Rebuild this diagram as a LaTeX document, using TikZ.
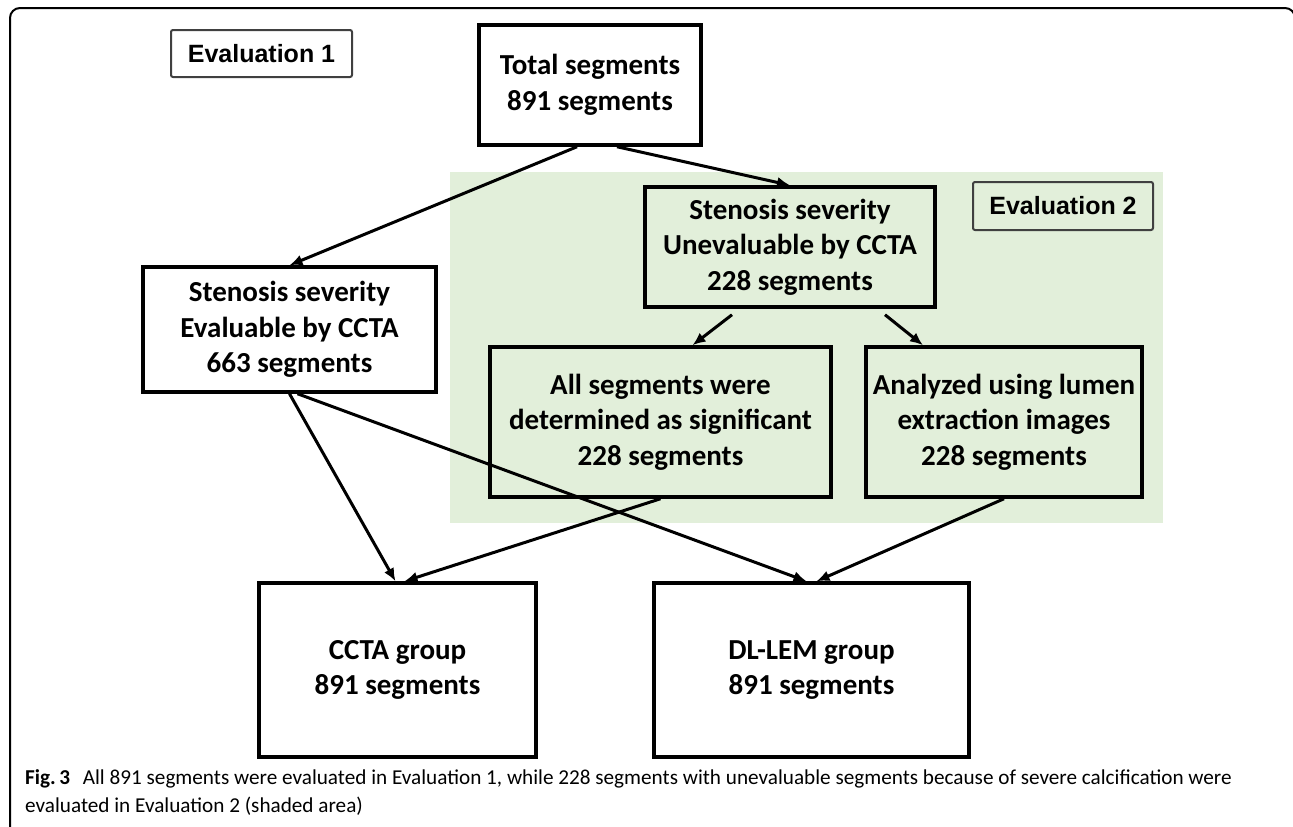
\documentclass[tikz,border=0pt]{standalone}
\usepackage{fontspec}
\setmainfont{Carlito}
\newfontfamily\arialfont{Liberation Sans}
\usetikzlibrary{arrows.meta}
\definecolor{areagreen}{RGB}{226,239,218}
\begin{document}
\begin{tikzpicture}[x=1pt, y=-1pt, >={Latex[length=13pt,width=11pt]},
    bx/.style={draw, line width=3.5pt, align=center, inner sep=0pt, font=\fontsize{29}{35.5}\selectfont\bfseries},
    ev/.style={draw=black!75, line width=2pt, rounded corners=2pt, inner sep=0pt, font=\arialfont\fontsize{25}{30}\selectfont\bfseries},
    ln/.style={->, line width=3pt}]
  \useasboundingbox (0,0) rectangle (1293,827);
  \clip (0,0) rectangle (1293,827);
  \draw[line width=2pt, rounded corners=10pt] (10,850) -- (10,8) -- (1295,8) -- (1295,850);
  \fill[areagreen] (450,172) rectangle (1163,523);
  \node[ev, minimum width=181pt, minimum height=47pt] (evalone) at (261.5,53.5) {Evaluation 1};
  \node[ev, minimum width=180pt, minimum height=48pt] (evaltwo) at (1063,206) {Evaluation 2};
  \node[bx, minimum width=222pt, minimum height=120pt] (total) at (590,85) {Total segments\\891 segments};
  \node[bx, minimum width=293pt, minimum height=125pt] (evaluable) at (289.5,329.5) {Stenosis severity\\Evaluable by CCTA\\663 segments};
  \node[bx, minimum width=290pt, minimum height=120pt] (uneval) at (790,247) {Stenosis severity\\Unevaluable by CCTA\\228 segments};
  \node[bx, minimum width=341pt, minimum height=150pt] (allsig) at (660.5,422) {All segments were\\determined as significant\\228 segments};
  \node[bx, minimum width=276pt, minimum height=150pt] (lumen) at (1004,422) {Analyzed using lumen\\extraction images\\228 segments};
  \node[bx, minimum width=277pt, minimum height=174pt] (ccta) at (397.5,670) {CCTA group\\891 segments};
  \node[bx, minimum width=315pt, minimum height=174pt] (dllem) at (811.5,670) {DL-LEM group\\891 segments};
  \draw[ln] ([xshift=-13pt]total.south) -- (evaluable.north);
  \draw[ln] ([xshift=27pt]total.south) -- (uneval.north);
  \draw[ln] ([xshift=-58pt,yshift=-6pt]uneval.south) -- ([xshift=32pt]allsig.north);
  \draw[ln] ([xshift=95pt,yshift=-6pt]uneval.south) -- ([xshift=-81pt]lumen.north);
  \draw[ln] (evaluable.south) -- ([xshift=-2pt]ccta.north);
  \draw[ln] ([xshift=8pt]evaluable.south) -- ([xshift=-5pt]dllem.north);
  \draw[ln] (allsig.south) -- ([xshift=7pt]ccta.north);
  \draw[ln] (lumen.south) -- ([xshift=5pt]dllem.north);
  \node[anchor=base west, align=left, inner sep=0pt, font=\fontsize{21.2}{28}\selectfont] (caption) at (25,812)
    {\textbf{Fig.\,3}\hspace{0.6em}All 891 segments were evaluated in Evaluation 1, while 228 segments with unevaluable segments because of severe calcification were\\evaluated in Evaluation 2 (shaded area)};
\end{tikzpicture}
\end{document}
